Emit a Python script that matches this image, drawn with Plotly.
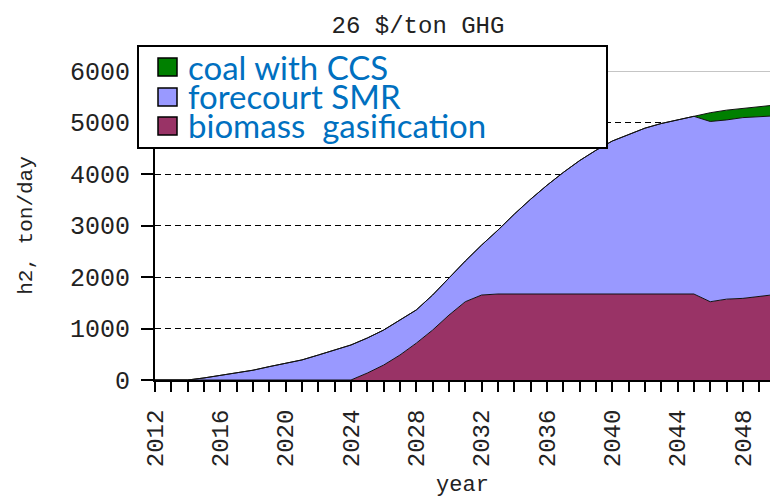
import plotly.graph_objects as go

years = list(range(2012, 2051))

biomass_gasification = [0, 0, 0, 0, 0, 0, 0, 0, 0, 0, 0, 0, 0,
                        135, 290, 485, 715, 970, 1260, 1520, 1650,
                        1670, 1670, 1670, 1670, 1670, 1670, 1670, 1670, 1670, 1670, 1670, 1670, 1670,
                        1520, 1570, 1585, 1620, 1660]

forecourt_smr = [0, 0, 0, 40, 90, 140, 190, 260, 330, 390, 485, 580, 680,
                 680, 680, 680, 645, 680, 730, 790, 970,
                 1240, 1550, 1840, 2110, 2360, 2590, 2790, 2970, 3100, 3220, 3310, 3380, 3450,
                 3500, 3480, 3510, 3495, 3470]

coal_with_ccs = [0] * 34 + [170, 190, 180, 205, 210]

series_names = ["biomass  gasification", "forecourt SMR", "coal with CCS"]
series_values = [biomass_gasification, forecourt_smr, coal_with_ccs]
series_colors = ["#993366", "#9999FF", "#008000"]

legend_order = ["coal with CCS", "forecourt SMR", "biomass  gasification"]

y_ticks = [0, 1000, 2000, 3000, 4000, 5000, 6000]
x_ticks = list(range(2012, 2050, 4))

W, H = 770, 498
L, R, T, B = 155, 0, 71, 118
PW, PH = W - L - R, H - T - B


def px(xp):
    return (xp - L) / PW


def py(yp):
    return (H - B - yp) / PH


fig = go.Figure()
for name, vals, col in zip(series_names, series_values, series_colors):
    fig.add_trace(go.Scatter(
        x=years, y=vals, name=name, mode="lines",
        stackgroup="one", fill="tonexty", fillcolor=col,
        line=dict(color="#111111", width=1), showlegend=False,
    ))

mono = "Liberation Mono"
txt = "#222222"

shapes = [
    dict(type="line", xref="paper", yref="y", x0=0, x1=1, y0=6000, y1=6000,
         line=dict(color="#8c8c8c", width=1), layer="above"),
    dict(type="rect", xref="paper", yref="paper", x0=px(138), x1=px(607), y0=py(148), y1=py(46),
         fillcolor="white", line=dict(color="black", width=2), layer="above"),
]
annotations = []
color_by_name = dict(zip(series_names, series_colors))
sq_tops = [58, 88, 117]
text_mid = [67, 96, 125]
for i, name in enumerate(legend_order):
    shapes.append(dict(type="rect", xref="paper", yref="paper",
                       x0=px(158), x1=px(177), y0=py(sq_tops[i] + 18), y1=py(sq_tops[i]),
                       fillcolor=color_by_name[name], line=dict(color="black", width=1.5), layer="above"))
    annotations.append(dict(xref="paper", yref="paper", x=px(186), y=py(text_mid[i]),
                            xanchor="left", yanchor="middle", showarrow=False, text=name,
                            font=dict(family="Lato", size=33, color="#0070C0")))

fig.update_layout(
    width=W, height=H,
    margin=dict(l=L, r=R, t=T, b=B, pad=0),
    paper_bgcolor="white", plot_bgcolor="white",
    title=dict(text="26 $/ton GHG", x=418 / W, xref="container", xanchor="center",
               y=1 - 25 / H, yanchor="middle",
               font=dict(family=mono, size=24, color=txt)),
    xaxis=dict(
        range=[2012, 2012 + PW / 16.33], tickvals=x_ticks, ticktext=[str(v) for v in x_ticks],
        tickangle=-90, ticks="outside", ticklen=10, tickwidth=2, tickcolor="black",
        showline=True, linecolor="black", linewidth=2, showgrid=False, zeroline=False,
        tickfont=dict(family=mono, size=24, color=txt), ticklabelstandoff=8,
        minor=dict(dtick=1, tick0=2012, ticks="outside", ticklen=10, tickwidth=2, tickcolor="black", showgrid=False),
        title=dict(text="year", font=dict(family=mono, size=22, color=txt), standoff=14),
    ),
    yaxis=dict(
        range=[0, 6000], tickvals=y_ticks, ticks="outside", ticklen=12, tickwidth=2, tickcolor="black",
        showline=True, linecolor="black", linewidth=2, zeroline=False,
        showgrid=True, gridcolor="black", gridwidth=1, griddash="6px,4px",
        tickfont=dict(family=mono, size=25, color=txt), ticklabelstandoff=6,
        title=dict(text="h2, ton/day", font=dict(family=mono, size=21, color=txt), standoff=32),
    ),
    shapes=shapes,
    annotations=annotations,
)

fig.write_html("out.html", config={"displayModeBar": False},
               post_script="document.body.style.margin='0';document.body.style.padding='0';")
